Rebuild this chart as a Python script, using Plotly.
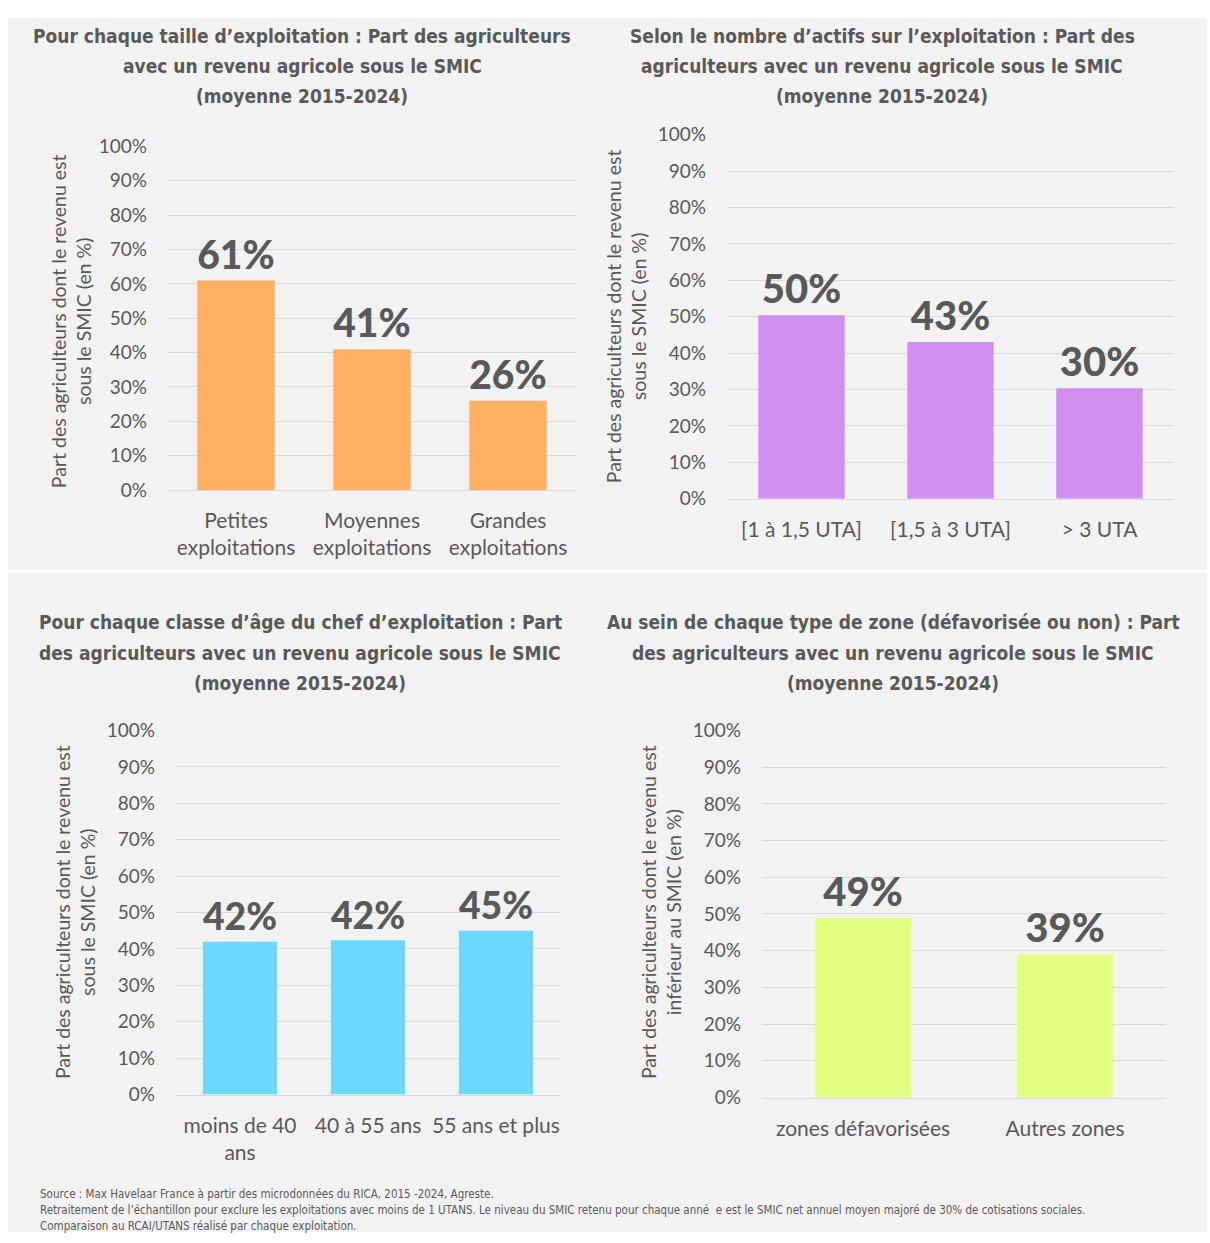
import plotly.graph_objects as go

W, H = 1210, 1243

# ── data ────────────────────────────────────────────────────────────
taille_cats = ["Petites<br>exploitations", "Moyennes<br>exploitations", "Grandes<br>exploitations"]
taille_vals = [61, 41, 26]

actifs_cats = ["[1 à 1,5 UTA]", "[1,5 à 3 UTA]", "> 3 UTA"]
actifs_vals = [50.4, 43.1, 30.4]

age_cats = ["moins de 40<br>ans", "40 à 55 ans", "55 ans et plus"]
age_vals = [42, 42.4, 45]

zone_cats = ["zones défavorisées", "Autres zones"]
zone_vals = [48.9, 39]

y_ticks = list(range(0, 101, 10))
y_tick_labels = [f"{v}%" for v in y_ticks]

TEXT = "#595959"
GRID = "#d9d9d9"
BG = "#f2f2f2"
TITLE_FONT = "DejaVu Sans Condensed"
BODY_FONT = "Lato"

SUBTITLE = "(moyenne 2015-2024)"

# panel geometry in pixels: (x0, x1, ytop, ybottom)
PANELS = [
    dict(cats=taille_cats, vals=taille_vals, color="#ffb061", box=(168, 576, 137, 487), gap=0.43,
         title=["Pour chaque taille d’exploitation : Part des agriculteurs",
                "avec un revenu agricole sous le SMIC", SUBTITLE],
         tpos=(302, 24),
         ytitle="Part des agriculteurs dont le revenu est<br>sous le SMIC (en %)", ypos=(71, 315)),
    dict(cats=actifs_cats, vals=actifs_vals, color="#d08fef", box=(727, 1174, 125, 496), gap=0.42,
         title=["Selon le nombre d’actifs sur l’exploitation : Part des",
                "agriculteurs avec un revenu agricole sous le SMIC", SUBTITLE],
         tpos=(882, 24),
         ytitle="Part des agriculteurs dont le revenu est<br>sous le SMIC (en %)", ypos=(626, 310)),
    dict(cats=age_cats, vals=age_vals, color="#6dd8ff", box=(176, 560, 732, 1103), gap=0.42,
         title=["Pour chaque classe d’âge du chef d’exploitation : Part",
                "des agriculteurs avec un revenu agricole sous le SMIC", SUBTITLE],
         tpos=(300, 622),
         ytitle="Part des agriculteurs dont le revenu est<br>sous le SMIC (en %)", ypos=(75, 917)),
    dict(cats=zone_cats, vals=zone_vals, color="#e3ff80", box=(762, 1166, 732, 1106), gap=0.525,
         title=["Au sein de chaque type de zone (défavorisée ou non) : Part",
                "des agriculteurs avec un revenu agricole sous le SMIC", SUBTITLE],
         tpos=(893, 622),
         ytitle="Part des agriculteurs dont le revenu est<br>inférieur au SMIC (en %)", ypos=(661, 917)),
]

fig = go.Figure()
annotations = []

for i, p in enumerate(PANELS, start=1):
    sfx = "" if i == 1 else str(i)
    x0, x1, yt, yb = p["box"]
    fig.add_trace(go.Bar(
        x=p["cats"], y=p["vals"],
        xaxis=f"x{sfx}", yaxis=f"y{sfx}",
        marker=dict(color=p["color"], line=dict(width=0)),
        width=1 - p["gap"],
        text=[f"{v:.0f}%" for v in p["vals"]],
        textposition="outside",
        textfont=dict(family=BODY_FONT, size=40, color=TEXT, weight=900),
        cliponaxis=False,
        showlegend=False,
        hovertemplate="%{x}: %{y:.0f}%<extra></extra>",
    ))
    fig.layout[f"xaxis{sfx}"] = dict(
        domain=[x0 / W, x1 / W], anchor=f"y{sfx}",
        showgrid=False, showline=True, linecolor=GRID, linewidth=1,
        ticks="", tickfont=dict(family=BODY_FONT, size=21, color=TEXT),
        ticklabelstandoff=12, fixedrange=True,
    )
    fig.layout[f"yaxis{sfx}"] = dict(
        domain=[1 - yb / H, 1 - yt / H], anchor=f"x{sfx}",
        range=[0, 100], tickvals=y_ticks, ticktext=y_tick_labels,
        showgrid=True, gridcolor=GRID, gridwidth=1, zeroline=False,
        showline=False, ticks="", ticklabelstandoff=20,
        tickfont=dict(family=BODY_FONT, size=19, color=TEXT), fixedrange=True,
    )
    for k, line in enumerate(p["title"]):
        annotations.append(dict(
            text=line, x=p["tpos"][0] / W, y=1 - (p["tpos"][1] + 31 * k) / H,
            xref="paper", yref="paper", xanchor="center", yanchor="middle",
            showarrow=False, align="center",
            font=dict(family=TITLE_FONT, size=19, color=TEXT, weight="bold"),
        ))
    annotations.append(dict(
        text=p["ytitle"], x=p["ypos"][0] / W, y=1 - p["ypos"][1] / H,
        xref="paper", yref="paper", xanchor="center", yanchor="middle",
        showarrow=False, align="center", textangle=-90,
        font=dict(family=BODY_FONT, size=19.5, color=TEXT),
    ))

notes = [
    "Source : Max Havelaar France à partir des microdonnées du RICA, 2015 -2024, Agreste.",
    "Retraitement de l’échantillon pour exclure les exploitations avec moins de 1 UTANS. Le niveau du SMIC retenu pour chaque anné  e est le SMIC net annuel moyen majoré de 30% de cotisations sociales.",
    "Comparaison au RCAI/UTANS réalisé par chaque exploitation.",
]
for k, line in enumerate(notes):
    annotations.append(dict(
        text=line, x=38 / W, y=1 - (1204 + 16.5 * k) / H, xref="paper", yref="paper",
        xanchor="left", yanchor="middle", align="left", showarrow=False,
        font=dict(family=TITLE_FONT, size=11.5, color=TEXT),
    ))

shapes = [
    dict(type="rect", xref="paper", yref="paper", x0=8 / W, x1=1207 / W, y0=0, y1=1 - 6 / H,
         fillcolor=BG, line=dict(width=0), layer="below"),
    dict(type="line", xref="paper", yref="paper", x0=8 / W, x1=1207 / W,
         y0=1 - 570 / H, y1=1 - 570 / H, line=dict(color="white", width=3), layer="below"),
]

fig.update_layout(
    width=W, height=H, autosize=False,
    margin=dict(l=0, r=0, t=0, b=0, pad=0),
    paper_bgcolor="white", plot_bgcolor="rgba(0,0,0,0)",
    annotations=annotations, shapes=shapes,
    font=dict(family=BODY_FONT, color=TEXT),
)

fig.write_html(
    "out.html",
    config={"displayModeBar": False},
    post_script="document.body.style.margin='0';document.body.style.overflow='hidden';",
)
